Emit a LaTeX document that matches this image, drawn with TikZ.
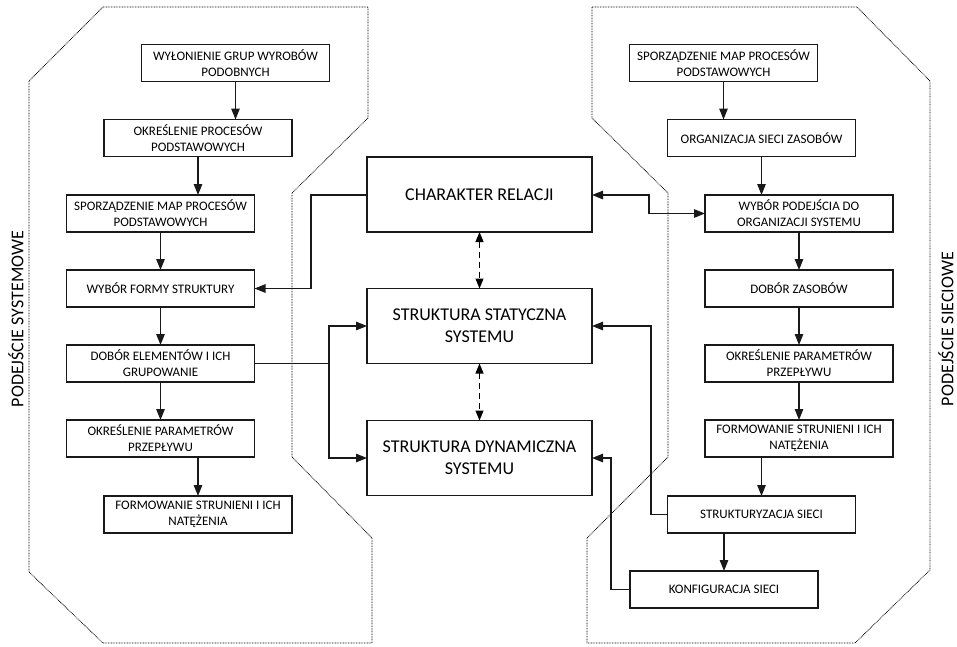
\documentclass[tikz,border=0pt]{standalone}
\usepackage{fontspec}
\setmainfont{Carlito}
\usetikzlibrary{arrows.meta}

\begin{document}
\begin{tikzpicture}[x=1pt,y=-1pt,
  every node/.style={inner sep=0pt, outer sep=0pt},
  smallbox/.style={draw=black!90, line width=1.2pt, fill=white, rectangle,
    minimum width=188pt, minimum height=37pt, align=center,
    font=\fontsize{13}{15.8}\selectfont},
  bigbox/.style={draw=black!90, line width=1.2pt, fill=white, rectangle,
    minimum width=225pt, minimum height=75pt, align=center,
    font=\fontsize{18}{22}\selectfont},
  flow/.style={draw=black!90, line width=1.2pt,
    -{Triangle[length=11pt,width=8.5pt]}},
  link/.style={flow},
  twoway/.style={draw=black!90, line width=1.2pt,
    {Triangle[length=11pt,width=8.5pt]}-{Triangle[length=11pt,width=8.5pt]}},
  mutual/.style={draw=black, line width=1.1pt, dash pattern=on 6pt off 4pt,
    {Triangle[length=10pt,width=8pt]}-{Triangle[length=10pt,width=8pt]}},
  zone/.style={draw=black, line width=0.8pt, dash pattern=on 0.8pt off 0.8pt},
  sidelabel/.style={rotate=90, font=\fontsize{18}{22}\selectfont}
]
\useasboundingbox (0,0) rectangle (957,646);

% dotted zones of the two approaches
\draw[zone] (103,7) -- (368,7) -- (368,118) -- (292,193) -- (292,457)
  -- (372,538) -- (372,643) -- (103,643) -- (29,572) -- (29,81) -- cycle;
\draw[zone] (592,7) -- (857,7) -- (930,81) -- (930,570) -- (855,643)
  -- (587,643) -- (587,538) -- (668,457) -- (668,193) -- (592,118) -- cycle;

\node[sidelabel] (lsys) at (16,319) {PODEJŚCIE SYSTEMOWE};
\node[sidelabel] (lnet) at (946,329) {PODEJŚCIE SIECIOWE};

% systems approach
\node[smallbox] (b1) at (235.5,63)  {WYŁONIENIE GRUP WYROBÓW\\PODOBNYCH};
\node[smallbox] (b2) at (198,138)   {OKREŚLENIE PROCESÓW\\PODSTAWOWYCH};
\node[smallbox] (b3) at (160.5,213.5) {SPORZĄDZENIE MAP PROCESÓW\\PODSTAWOWYCH};
\node[smallbox] (b4) at (160.5,288.5) {WYBÓR FORMY STRUKTURY};
\node[smallbox] (b5) at (160.5,363.5) {DOBÓR ELEMENTÓW I ICH\\GRUPOWANIE};
\node[smallbox] (b6) at (160.5,438.5) {OKREŚLENIE PARAMETRÓW\\PRZEPŁYWU};
\node[smallbox] (b7) at (198,514.5) {FORMOWANIE STRUNIENI I ICH\\NATĘŻENIA};

% network approach
\node[smallbox] (r1) at (723.5,63)  {SPORZĄDZENIE MAP PROCESÓW\\PODSTAWOWYCH};
\node[smallbox] (r2) at (761.5,138) {ORGANIZACJA SIECI ZASOBÓW};
\node[smallbox] (r3) at (799,213.5) {WYBÓR PODEJŚCIA DO\\ORGANIZACJI SYSTEMU};
\node[smallbox] (r4) at (799,288.5) {DOBÓR ZASOBÓW};
\node[smallbox] (r5) at (799,363.5) {OKREŚLENIE PARAMETRÓW\\PRZEPŁYWU};
\node[smallbox] (r6) at (799,438.5) {FORMOWANIE STRUNIENI I ICH\\NATĘŻENIA};
\node[smallbox] (r7) at (761.5,514.5) {STRUKTURYZACJA SIECI};
\node[smallbox] (r8) at (724,589.5) {KONFIGURACJA SIECI};

% central structure
\node[bigbox] (c1) at (479.5,194.5) {CHARAKTER RELACJI};
\node[bigbox] (c2) at (479.5,326) {STRUKTURA STATYCZNA\\SYSTEMU};
\node[bigbox] (c3) at (479.5,458) {STRUKTURA DYNAMICZNA\\SYSTEMU};

% vertical flows, left
\draw[flow] (b1.south) -- (b1.south |- b2.north);
\draw[flow] (b2.south) -- (b2.south |- b3.north);
\draw[flow] (b3.south) -- (b4.north);
\draw[flow] (b4.south) -- (b5.north);
\draw[flow] (b5.south) -- (b6.north);
\draw[flow] (b6.south -| b7.north) -- (b7.north);

% vertical flows, right
\draw[flow] (r1.south) -- (r1.south |- r2.north);
\draw[flow] (r2.south) -- (r2.south |- r3.north);
\draw[flow] (r3.south) -- (r4.north);
\draw[flow] (r4.south) -- (r5.north);
\draw[flow] (r5.south) -- (r6.north);
\draw[flow] (r6.south -| r7.north) -- (r7.north);
\draw[flow] (r7.south -| r8.north) -- (r8.north);

% central mutual relations
\draw[mutual] (c1.south) -- (c2.north);
\draw[mutual] (c2.south) -- (c3.north);

% cross links
\coordinate (jl) at (311,195);
\draw[link] (c1.west |- jl) -- (jl) -- (jl |- b4.east) -- (b4.east);
\coordinate (jb) at (329,363.5);
\draw[draw=black!90, line width=1.2pt] (b5.east) -- (jb);
\draw[link] (jb) -- (jb |- c2.west) -- (c2.west);
\draw[link] (jb) -- (jb |- c3.west) -- (c3.west);

\coordinate (jr) at (649,195);
\draw[twoway] (c1.east |- jr) -- (jr) -- (jr |- r3.west) -- (r3.west);
\coordinate (js) at (651,514.5);
\draw[link] (r7.west) -- (js) -- (js |- c2.east) -- (c2.east);
\coordinate (jd) at (611,589.5);
\draw[link] (r8.west) -- (jd) -- (jd |- c3.east) -- (c3.east);
\end{tikzpicture}
\end{document}
